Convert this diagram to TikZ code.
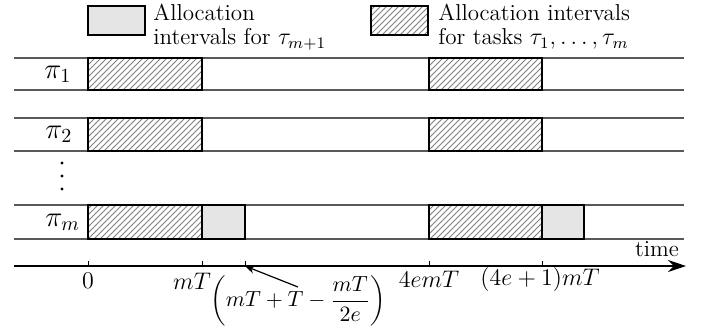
\documentclass[tikz,border=0pt]{standalone}
\usepackage{amsmath,amssymb}
\usetikzlibrary{arrows.meta,patterns}

\begin{document}
\begin{tikzpicture}[x=0.5pt,y=-0.5pt,font=\fontsize{11.5}{12}\selectfont,
  rowline/.style={draw=black!65,line width=0.6pt},
  hatchbox/.style={draw,line width=0.7pt,pattern=north east lines,pattern color=black!50},
  greybox/.style={draw,line width=0.7pt,fill=black!10},
  proclbl/.style={anchor=west,inner sep=0pt,font=\fontsize{14}{15}\selectfont},
  ticklbl/.style={inner sep=1pt}]
  \useasboundingbox (0,0) rectangle (704,333);
  % legend
  \draw[greybox] (88,6) rectangle (145,35);
  \node[anchor=north west,align=left,inner sep=0pt] (legA) at (153,4) {Allocation\\intervals for $\tau_{m+1}$};
  \draw[hatchbox] (371,6) rectangle (428,35);
  \node[anchor=north west,align=left,inner sep=0pt] (legB) at (438,4) {Allocation intervals\\for tasks $\tau_1,\ldots,\tau_m$};
  % processor rows
  \draw[rowline] (14,58) -- (684,58) (14,90) -- (684,90);
  \draw[rowline] (14,118) -- (684,118) (14,151) -- (684,151);
  \draw[rowline] (14,205) -- (684,205) (14,239) -- (684,239);
  \node[proclbl] (p1) at (44,74) {$\pi_1$};
  \node[proclbl] (p2) at (45,134) {$\pi_2$};
  \node[proclbl] (pm) at (45,222) {$\pi_m$};
  \fill (62,163) circle (0.8pt) (62,176) circle (0.8pt) (62,189) circle (0.8pt);
  % allocations
  \draw[hatchbox] (88,58) rectangle (202,90);
  \draw[hatchbox] (429,58) rectangle (542,90);
  \draw[hatchbox] (88,118) rectangle (202,151);
  \draw[hatchbox] (429,118) rectangle (542,151);
  \draw[hatchbox] (88,205) rectangle (202,239);
  \draw[greybox] (202,205) rectangle (245,239);
  \draw[hatchbox] (429,205) rectangle (542,239);
  \draw[greybox] (542,205) rectangle (584,239);
  % time axis
  \coordinate (ax0) at (14,266);
  \coordinate (ax1) at (686,266);
  \draw[line width=1.1pt,-{Stealth[length=9pt,width=6pt]}] (ax0) -- (ax1);
  \node[anchor=base,inner sep=0pt] (tm) at (657,256) {time};
  \foreach \x/\n in {88/t0,202/t1,245/t2,429/t3,542/t4}
    \draw[line width=0.5pt] (\x,266) coordinate (\n) -- (\x,261);
  \node[ticklbl] (l0) at (88,281) {$0$};
  \node[ticklbl] (l1) at (192,281) {$mT$};
  \node[ticklbl] (l3) at (429,279) {$4emT$};
  \node[ticklbl] (l4) at (540,279) {$(4e+1)mT$};
  \node[ticklbl,font=\fontsize{10.5}{12}\selectfont] (l2) at (298,301) {$\left(mT+T-\dfrac{mT}{2e}\right)$};
  \coordinate (arrS) at (298,287);
  \draw[line width=0.6pt,-{Stealth[length=5pt,width=4pt]}] (arrS) -- (t2);
\end{tikzpicture}
\end{document}
